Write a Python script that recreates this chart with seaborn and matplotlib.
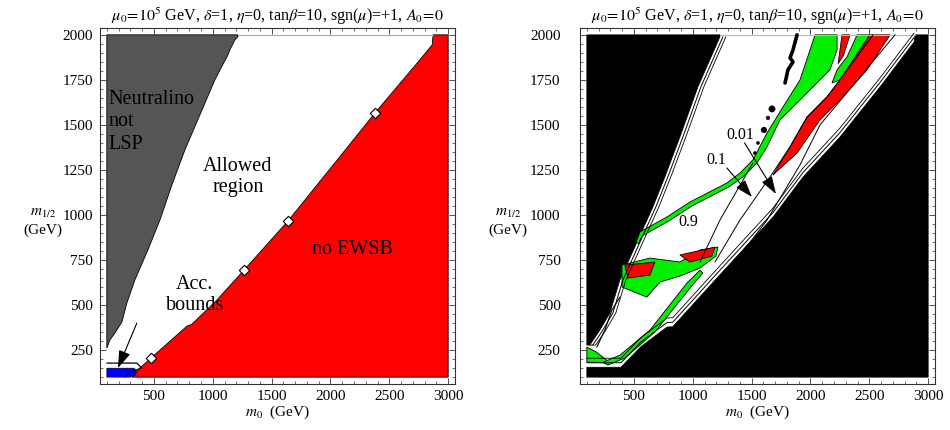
import matplotlib
matplotlib.use("Agg")
import matplotlib.pyplot as plt
import numpy as np
import pandas as pd
import seaborn as sns
from matplotlib.ticker import MultipleLocator

# ---------------- data (GeV) ----------------
TITLE = r"$\mu_0\!=\!10^5$ GeV, $\delta$=1, $\eta$=0, tan$\beta$=10, sgn($\mu$)=+1, $A_0\!=\!0$"
X_TICKS = [500, 1000, 1500, 2000, 2500, 3000]
Y_TICKS = [250, 500, 750, 1000, 1250, 1500, 1750, 2000]

# left panel: neutralino-not-LSP region (upper left)
LSP_M0 = [100, 100, 126, 168, 228, 270, 338, 449, 551, 653, 763, 891, 1018, 1129, 1146, 1188, 1214, 1214]
LSP_M12 = [2000, 261, 306, 344, 406, 511, 639, 806, 972, 1167, 1361, 1556, 1750, 1889, 1917, 1972, 1990, 2000]
# left panel: no EWSB region (lower right)
EWSB_M0 = [313, 381, 474, 551, 780, 823, 1035, 1265, 1639, 1996, 2379, 2745, 2864, 2872, 3000, 3000]
EWSB_M12 = [100, 150, 206, 250, 383, 394, 528, 694, 967, 1256, 1567, 1850, 1944, 2000, 2000, 100]
# left panel: accelerator bounds
ACC_M0 = [100, 100, 330, 352, 345, 300]
ACC_M12 = [100, 150, 150, 138, 112, 100]
ACC_LINE1_M0 = [100, 355, 398]
ACC_LINE1_M12 = [178, 178, 150]
ACC_LINE2_M0 = [255, 300, 360, 381]
ACC_LINE2_M12 = [100, 128, 142, 150]
DIAMOND_M0 = [474, 1265, 1639, 2379]
DIAMOND_M12 = [206, 694, 967, 1567]

# right panel: excluded (black) upper-left region
BL_UP_M0 = [100, 100, 125, 211, 296, 381, 520, 661, 763, 891, 1044, 1231, 1231]
BL_UP_M12 = [2000, 278, 278, 361, 456, 639, 840, 1044, 1211, 1433, 1711, 1989, 2000]
# right panel: excluded (black) lower-right region
BL_LO_M0 = [100, 100, 390, 560, 781, 830, 1205, 1682, 1937, 2251, 2591, 2880, 2889, 3000, 3000]
BL_LO_M12 = [100, 155, 155, 270, 378, 380, 650, 989, 1211, 1433, 1711, 1960, 2000, 2000, 100]
# right panel: green (favoured) main band
GR_MAIN_M0 = [2039, 1911, 1767, 1631, 1511, 1401, 1290, 976, 780, 551, 520,
              540, 568, 797, 993, 1307, 1426, 1545, 1631, 1741, 1886, 2022, 2166, 2226, 2226]
GR_MAIN_M12 = [2000, 1750, 1600, 1456, 1306, 1233, 1178, 1072, 989, 906, 850,
               840, 883, 967, 1050, 1156, 1211, 1289, 1378, 1528, 1622, 1711, 1806, 1917, 2000]
GR_FING_M0 = [2396, 2506, 2251, 2183, 2226, 2311]
GR_FING_M12 = [2000, 2000, 1750, 1733, 1806, 1878]
RD_STRIP_M0 = [2268, 2336, 2280, 2235]
RD_STRIP_M12 = [2000, 2000, 1885, 1840]
RD_WEDGE_M0 = [2506, 2251, 2141, 1971, 1826, 1682, 1699, 1886, 2081, 2251, 2481, 2677]
RD_WEDGE_M12 = [2000, 1750, 1656, 1544, 1378, 1222, 1233, 1344, 1528, 1639, 1806, 2000]
# right panel: lower-left patch
GR_PATCH_M0 = [400, 398, 636, 891, 1061, 1214, 1197, 1061, 891, 721, 610]
GR_PATCH_M12 = [600, 722, 761, 739, 806, 822, 772, 706, 661, 628, 544]
RD_P1_M0 = [423, 678, 636, 449]
RD_P1_M12 = [722, 739, 667, 650]
RD_P2_M0 = [891, 1189, 1163, 976]
RD_P2_M12 = [778, 822, 772, 739]
GR_BAND_M0 = [236, 381, 636, 950, 1061, 1086, 976, 678, 423, 279]
GR_BAND_M12 = [183, 222, 361, 622, 694, 678, 594, 350, 206, 167]
GR_TRI_M0 = [100, 100, 300, 180]
GR_TRI_M12 = [267, 183, 178, 240]
LOOP_M0 = [185, 253, 313, 381]
LOOP_M12 = [267, 361, 472, 544]
# contour lines
C09_M0 = [1061, 1231, 1511]
C09_M12 = [739, 972, 1289]
C01_M0 = [1189, 1401, 1656, 1826, 1971, 2141, 2251, 2532]
C01_M12 = [739, 972, 1211, 1378, 1544, 1656, 1750, 2000]
C001_M0 = [1358, 1631, 1784, 1911, 2081, 2294, 2506, 2719]
C001_M12 = [739, 972, 1139, 1278, 1500, 1667, 1833, 2000]
SQUIG_M0 = [1886, 1852, 1826, 1852, 1809, 1784]
SQUIG_M12 = [2000, 1917, 1872, 1850, 1806, 1733]
DOT_M0 = [1673, 1639, 1605, 1554, 1528]
DOT_M12 = [1589, 1539, 1472, 1400, 1344]
DOT_SIZE = [22, 8, 18, 6, 6]

# ---------------- style ----------------
sns.set_theme(style="ticks")
plt.rcParams["font.family"] = ["Liberation Serif", "DejaVu Serif"]
plt.rcParams["mathtext.fontset"] = "stix"
plt.rcParams["axes.edgecolor"] = "#333333"
plt.rcParams["axes.linewidth"] = 0.8
plt.rcParams["text.color"] = "black"
plt.rcParams["axes.labelcolor"] = "black"
plt.rcParams["axes.titlecolor"] = "black"
plt.rcParams["xtick.labelcolor"] = "black"
plt.rcParams["ytick.labelcolor"] = "black"

GRAY = "#555555"
RED = "#ff0000"
BLUE = "#0000ff"
GREEN = "#00ee00"
FS = 11

fig = plt.figure(figsize=(9.5, 4.3), dpi=100)
axL = fig.add_axes([100 / 950, 46 / 430, 355 / 950, 356 / 430])
axR = fig.add_axes([580 / 950, 46 / 430, 355 / 950, 356 / 430])


def region(ax, xs, ys, color, lw=0.6, z=2):
    ax.fill(xs, ys, facecolor=color, edgecolor="black", lw=lw, zorder=z)


def line(ax, xs, ys, lw=0.7, color="black", z=4):
    df = pd.DataFrame({"m0": xs, "m12": ys})
    sns.lineplot(data=df, x="m0", y="m12", ax=ax, sort=False, estimator=None,
                 color=color, lw=lw, zorder=z, legend=False)


def style(ax, ypad):
    ax.set_xlim(42, 3058)
    ax.set_ylim(62, 2038)
    ax.set_xticks(X_TICKS)
    ax.set_yticks(Y_TICKS)
    ax.xaxis.set_minor_locator(MultipleLocator(100))
    ax.yaxis.set_minor_locator(MultipleLocator(50))
    ax.tick_params(which="both", direction="in", top=True, right=True,
                   labelsize=FS, color="#333333", labelcolor="black")
    ax.tick_params(which="major", length=4, width=0.6)
    ax.tick_params(which="minor", length=2, width=0.5)
    ax.tick_params(axis="y", pad=ypad)
    ax.tick_params(axis="x", pad=4)
    ax.set_xlabel(r"$m_0$  (GeV)", fontsize=FS, labelpad=1, color="black")
    ax.set_ylabel("")
    ax.set_title(TITLE, fontsize=11.6, pad=5, color="black")
    ax.set_facecolor("white")


# ---------------- left panel ----------------
region(axL, LSP_M0, LSP_M12, GRAY)
region(axL, EWSB_M0, EWSB_M12, RED)
region(axL, ACC_M0, ACC_M12, BLUE, lw=0.4)
line(axL, ACC_LINE1_M0, ACC_LINE1_M12, lw=0.9)
line(axL, ACC_LINE2_M0, ACC_LINE2_M12, lw=0.7)
line(axL, [1214, 2872], [2000, 2000], lw=0.8, color="#ff8080", z=3)
sns.scatterplot(x=DIAMOND_M0, y=DIAMOND_M12, ax=axL, marker="D", s=28,
                color="white", edgecolor="black", linewidth=0.8, zorder=5, legend=False)
axL.text(117, 1517, "Neutralino\nnot\nLSP", fontsize=14.5, ha="left", va="center",
         linespacing=1.25, zorder=6, color="black")
axL.text(1214, 1210, "Allowed\nregion", fontsize=14.5, ha="center", va="center",
         linespacing=1.15, zorder=6, color="black")
axL.text(2183, 806, "no EWSB", fontsize=14.5, ha="center", va="center", zorder=6,
         color="black")
axL.text(848, 556, "Acc.\nbounds", fontsize=14.5, ha="center", va="center",
         linespacing=1.1, zorder=6, color="black")
axL.annotate("", xy=(194, 150), xytext=(355, 400),
             arrowprops=dict(arrowstyle="-|>,head_length=0.9,head_width=0.3",
                             color="black", lw=0.8, shrinkA=0, shrinkB=0), zorder=6)
style(axL, 5)
axL.text(-0.16, 0.455, "$m_{1/2}$\n(GeV)", transform=axL.transAxes, fontsize=FS,
         ha="center", va="center", linespacing=1.3, color="black")

# ---------------- right panel ----------------
region(axR, BL_UP_M0, BL_UP_M12, "black", lw=0.5)
region(axR, BL_LO_M0, BL_LO_M12, "black", lw=0.5)
# double contour lines along excluded regions
line(axR, [m + 25 for m in BL_UP_M0[1:-1]], BL_UP_M12[1:-1], lw=0.7)
line(axR, [m + 50 for m in BL_UP_M0[1:-1]], BL_UP_M12[1:-1], lw=0.6)
line(axR, BL_LO_M0[1:-3], [v + 25 for v in BL_LO_M12[1:-3]], lw=0.7)
line(axR, BL_LO_M0[1:-3], [v + 50 for v in BL_LO_M12[1:-3]], lw=0.6)
region(axR, GR_TRI_M0, GR_TRI_M12, GREEN)
region(axR, GR_BAND_M0, GR_BAND_M12, GREEN)
region(axR, GR_PATCH_M0, GR_PATCH_M12, GREEN)
region(axR, RD_P1_M0, RD_P1_M12, RED)
region(axR, RD_P2_M0, RD_P2_M12, RED)
line(axR, LOOP_M0, LOOP_M12, lw=0.8)
line(axR, C09_M0, C09_M12, lw=0.7)
line(axR, C01_M0, C01_M12, lw=0.7)
line(axR, C001_M0, C001_M12, lw=0.7)
region(axR, GR_MAIN_M0, GR_MAIN_M12, GREEN, z=3)
region(axR, GR_FING_M0, GR_FING_M12, GREEN, z=3)
region(axR, RD_STRIP_M0, RD_STRIP_M12, RED, z=3)
region(axR, RD_WEDGE_M0, RD_WEDGE_M12, RED, z=3)
line(axR, SQUIG_M0, SQUIG_M12, lw=2.6)
sns.scatterplot(x=DOT_M0, y=DOT_M12, size=DOT_SIZE, sizes=(6, 22), ax=axR,
                color="black", edgecolor="black", zorder=5, legend=False)
line(axR, [1231, 2889], [2000, 2000], lw=0.8, color="#a0d080", z=3)
axR.text(1197, 1306, "0.1", fontsize=11.5, ha="center", va="center", zorder=6,
         color="black")
axR.text(1401, 1444, "0.01", fontsize=11.5, ha="center", va="center", zorder=6,
         color="black")
axR.text(959, 961, "0.9", fontsize=11.5, ha="center", va="center", zorder=6,
         color="black")
for (x0, y0), (x1, y1) in [((1290, 1261), (1503, 1100)), ((1440, 1400), (1707, 1117))]:
    axR.annotate("", xy=(x1, y1), xytext=(x0, y0),
                 arrowprops=dict(arrowstyle="-|>,head_length=0.9,head_width=0.3",
                                 color="black", lw=0.8, shrinkA=0, shrinkB=0), zorder=6)
style(axR, 14)
axR.text(-0.203, 0.455, "$m_{1/2}$\n(GeV)", transform=axR.transAxes, fontsize=FS,
         ha="center", va="center", linespacing=1.3, color="black")

fig.savefig("out.png", dpi=100)
